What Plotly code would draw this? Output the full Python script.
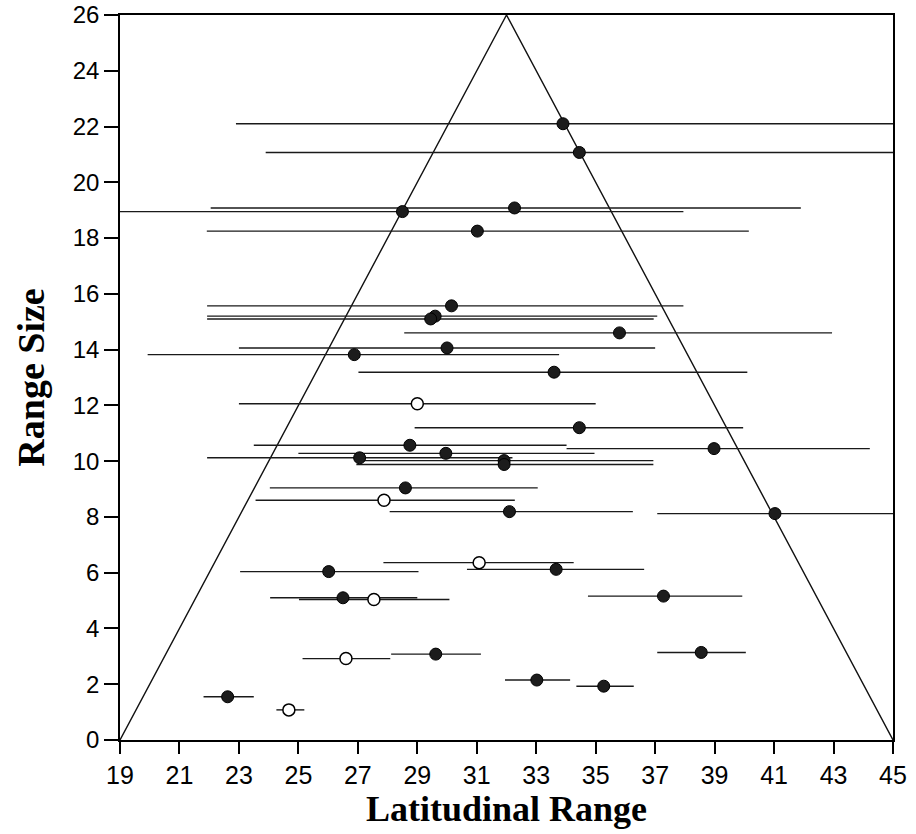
import plotly.graph_objects as go

# Species: latitudinal midpoint, range size, range extent and symbol type
mid_lat = [33.90, 34.45, 28.50, 32.27, 31.02, 30.15, 29.60, 29.45, 35.80, 30.00,
           26.88, 33.60, 29.00, 34.45, 28.75, 38.98, 27.06, 29.96, 31.92, 31.92,
           28.60, 27.88, 32.10, 41.03, 26.02, 31.08, 33.67, 26.50, 27.54, 37.28,
           26.60, 29.62, 33.02, 35.27, 38.55, 22.62, 24.68]
range_size = [22.10, 21.07, 18.95, 19.08, 18.25, 15.57, 15.20, 15.10, 14.60, 14.06,
              13.82, 13.19, 12.06, 11.20, 10.57, 10.45, 10.12, 10.28, 10.02, 9.88,
              9.04, 8.60, 8.19, 8.12, 6.04, 6.36, 6.12, 5.10, 5.04, 5.16,
              2.92, 3.08, 2.15, 1.93, 3.14, 1.55, 1.08]
lat_min = [22.90, 23.90, 19.00, 22.05, 21.92, 21.93, 21.93, 21.93, 28.56, 23.00,
           19.93, 27.02, 23.00, 28.91, 23.50, 34.02, 21.93, 25.00, 26.90, 26.95,
           24.04, 23.56, 28.07, 37.07, 23.04, 27.86, 30.67, 24.05, 25.02, 34.74,
           25.14, 28.12, 31.95, 34.35, 37.07, 21.81, 24.26]
lat_max = [45.00, 45.00, 37.95, 41.90, 40.15, 37.95, 37.07, 36.95, 42.95, 37.00,
           33.77, 40.10, 35.00, 39.96, 34.02, 44.22, 32.20, 34.96, 36.94, 36.94,
           33.05, 32.28, 36.25, 45.00, 29.04, 34.26, 36.63, 29.00, 30.08, 39.93,
           28.09, 31.14, 34.14, 36.28, 40.05, 23.50, 25.20]
open_symbol = [0, 0, 0, 0, 0, 0, 0, 0, 0, 0,
               0, 0, 1, 0, 0, 0, 0, 0, 0, 0,
               0, 1, 0, 0, 0, 1, 0, 0, 1, 0,
               1, 0, 0, 0, 0, 0, 1]

# Mid-domain constraint envelope
domain_x = [19, 32, 45]
domain_y = [0, 26, 0]

x_ticks = list(range(19, 46, 2))
y_ticks = list(range(0, 27, 2))

seg_x, seg_y = [], []
for lo, hi, s in zip(lat_min, lat_max, range_size):
    seg_x += [lo, hi, None]
    seg_y += [s, s, None]

fx = [m for m, o in zip(mid_lat, open_symbol) if not o]
fy = [s for s, o in zip(range_size, open_symbol) if not o]
ox = [m for m, o in zip(mid_lat, open_symbol) if o]
oy = [s for s, o in zip(range_size, open_symbol) if o]

fig = go.Figure()
fig.add_trace(go.Scatter(x=domain_x, y=domain_y, mode="lines",
                         line=dict(color="#111111", width=1.4),
                         hoverinfo="skip", showlegend=False))
fig.add_trace(go.Scatter(x=seg_x, y=seg_y, mode="lines",
                         line=dict(color="#1a1a1a", width=1.4),
                         hoverinfo="skip", showlegend=False))
fig.add_trace(go.Scatter(x=fx, y=fy, mode="markers",
                         marker=dict(size=12, color="#1c1c1c",
                                     line=dict(color="#000000", width=1)),
                         showlegend=False))
fig.add_trace(go.Scatter(x=ox, y=oy, mode="markers",
                         marker=dict(size=12, color="#ffffff",
                                     line=dict(color="#000000", width=1.5)),
                         showlegend=False))

axis_common = dict(showgrid=False, zeroline=False, showline=True,
                   linecolor="#000000", linewidth=1.6, mirror=True,
                   ticks="outside", tickcolor="#000000", tickwidth=1.5,
                   automargin=False)

fig.update_layout(
    width=916, height=834,
    margin=dict(l=120, r=23, t=15, b=94),
    paper_bgcolor="white", plot_bgcolor="white",
    xaxis=dict(range=[19, 45], tickvals=x_ticks, ticklen=12,
               tickfont=dict(family="Liberation Sans Narrow, Liberation Sans, Arial",
                             size=25, color="#000000"),
               title=dict(text="<b>Latitudinal Range</b>", standoff=6,
                          font=dict(family="Liberation Serif, Times New Roman, serif",
                                    size=36, color="#000000")),
               **axis_common),
    yaxis=dict(range=[0, 26], tickvals=y_ticks, ticklen=14,
               tickfont=dict(family="Liberation Sans, Arial", size=24,
                             color="#000000"),
               title=dict(text="<b>Range Size</b>", standoff=16,
                          font=dict(family="Liberation Serif, Times New Roman, serif",
                                    size=38, color="#000000")),
               **axis_common),
)

fig.write_html("out.html")
